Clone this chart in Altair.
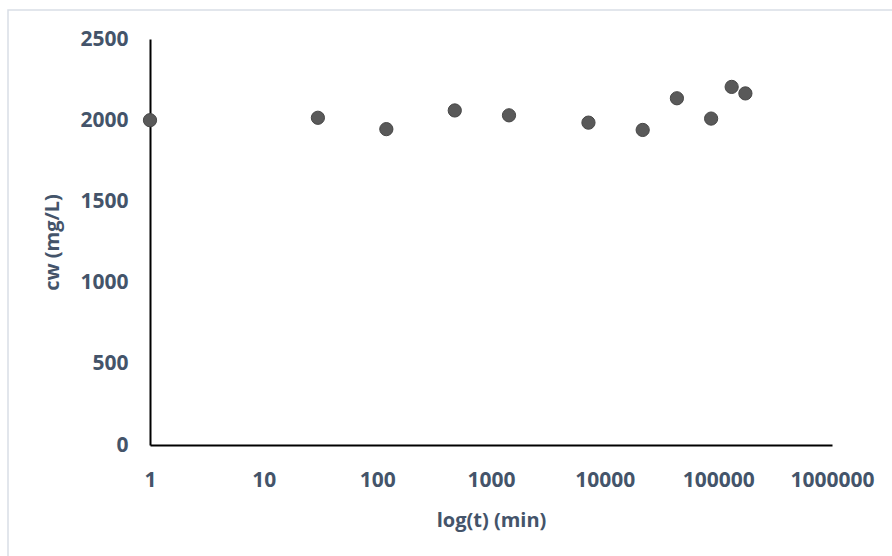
import altair as alt
import pandas as pd

# Elapsed time (min) and measured concentration cw (mg/L)
t_min = [1, 30, 120, 480, 1440, 7200, 21600, 43200, 86400, 131000, 173000]
cw_mgL = [2000, 2015, 1945, 2060, 2030, 1985, 1940, 2135, 2010, 2205, 2165]

x_ticks = [1, 10, 100, 1000, 10000, 100000, 1000000]
y_ticks = [0, 500, 1000, 1500, 2000, 2500]

df = pd.DataFrame({"t": t_min, "cw": cw_mgL})

TEXT = "#44546A"
FONT = "Open Sans"

points = alt.Chart(df).mark_circle(
    size=175, color="#595959", opacity=1, stroke="#474747", strokeWidth=1
).encode(
    x=alt.X(
        "t:Q",
        scale=alt.Scale(type="log", domain=[1, 1000000], nice=False),
        axis=alt.Axis(
            values=x_ticks, format=".0f", title="log(t) (min)",
            ticks=False, grid=False, labelPadding=24, titlePadding=20,
            labelFlush=False, labelOverlap=False, labelBound=False,
            domainColor="#000000", domainWidth=2,
        ),
    ),
    y=alt.Y(
        "cw:Q",
        scale=alt.Scale(domain=[0, 2500], nice=False),
        axis=alt.Axis(
            values=y_ticks, format="d", title="cw (mg/L)", ticks=False,
            grid=False, labelPadding=22, titlePadding=17,
            labelFlush=False, labelOverlap=False,
            domainColor="#000000", domainWidth=2,
        ),
    ),
)

# light frame around the chart area
frame = alt.Chart(pd.DataFrame({"k": [0]})).mark_rect(
    fill=None, stroke="#D9DEE6", strokeWidth=1.5
).encode(
    x=alt.value(-142), x2=alt.value(760), y=alt.value(-29), y2=alt.value(560)
)

chart = alt.layer(frame, points).properties(
    width=682,
    height=406,
    autosize=alt.AutoSizeParams(type="none"),
    padding={"left": 150, "top": 39, "right": 60, "bottom": 111},
).configure_view(
    stroke=None
).configure_axis(
    labelFont=FONT, titleFont=FONT,
    labelFontSize=21, titleFontSize=20,
    labelFontWeight="bold", titleFontWeight="bold",
    labelColor=TEXT, titleColor=TEXT,
)

chart.save("out.html", embed_options={"renderer": "svg", "actions": False})
